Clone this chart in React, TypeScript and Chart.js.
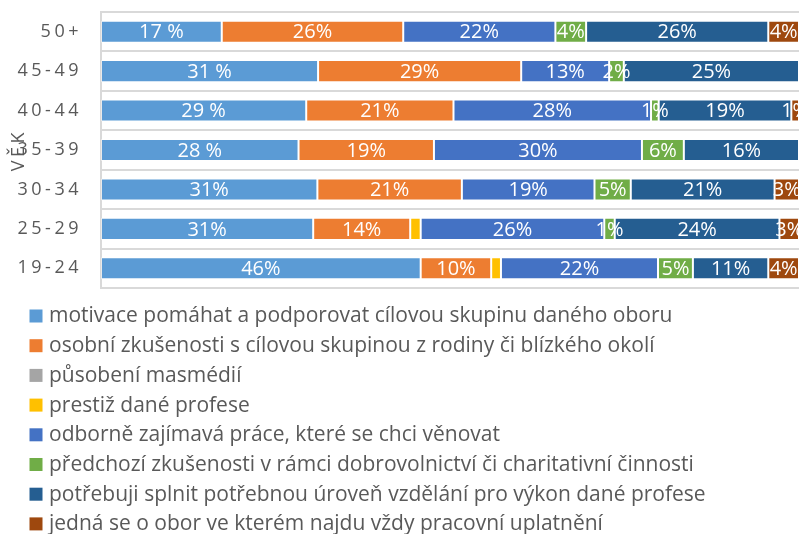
import React, { useEffect, useRef } from "react";
import { Chart, registerables } from "chart.js";

Chart.register(...registerables);

const categories = ["50+", "45-49", "40-44", "35-39", "30-34", "25-29", "19-24"];

const seriesNames = [
  "motivace pomáhat a podporovat cílovou skupinu daného oboru",
  "osobní zkušenosti s cílovou skupinou z rodiny či blízkého okolí",
  "působení masmédií",
  "prestiž dané profese",
  "odborně zajímavá práce, které se chci věnovat",
  "předchozí zkušenosti v rámci dobrovolnictví či charitativní činnosti",
  "potřebuji splnit potřebnou úroveň vzdělání pro výkon dané profese",
  "jedná se o obor ve kterém najdu vždy pracovní uplatnění",
];

const seriesColors = ["#5B9BD5", "#ED7D31", "#A5A5A5", "#FFC000", "#4472C4", "#70AD47", "#255E91", "#9E480E"];

const motivace = [17.3, 31.1, 29.4, 28.3, 31.0, 30.4, 45.8];
const osobni = [26.0, 29.1, 21.1, 19.4, 20.7, 13.9, 10.1];
const masmedia = [0, 0, 0, 0, 0, 0, 0];
const prestiz = [0, 0, 0, 0, 0, 1.5, 1.4];
const odborne = [21.8, 12.6, 28.3, 29.8, 19.0, 26.3, 22.5];
const predchozi = [4.4, 2.1, 1.1, 6.0, 5.2, 1.5, 5.0];
const potrebuji = [26.1, 25.1, 19.0, 16.5, 20.6, 23.6, 10.8];
const jedna = [4.4, 0, 1.1, 0, 3.5, 2.8, 4.4];

const motivaceLabels = ["17 %", "31 %", "29 %", "28 %", "31%", "31%", "46%"];
const osobniLabels = ["26%", "29%", "21%", "19%", "21%", "14%", "10%"];
const masmediaLabels = ["", "", "", "", "", "", ""];
const prestizLabels = ["", "", "", "", "", "", ""];
const odborneLabels = ["22%", "13%", "28%", "30%", "19%", "26%", "22%"];
const predchoziLabels = ["4%", "2%", "1%", "6%", "5%", "1%", "5%"];
const potrebujiLabels = ["26%", "25%", "19%", "16%", "21%", "24%", "11%"];
const jednaLabels = ["4%", "", "1%", "", "3%", "3%", "4%"];

const seriesValues = [motivace, osobni, masmedia, prestiz, odborne, predchozi, potrebuji, jedna];
const seriesLabels = [
  motivaceLabels, osobniLabels, masmediaLabels, prestizLabels,
  odborneLabels, predchoziLabels, potrebujiLabels, jednaLabels,
];

const axisTitle = "VĚK";

const FONT = "'Open Sans', sans-serif";
const TEXT_GRAY = "#595959";

const spacingPlugin = {
  id: "spacing",
  beforeDraw(chart: any) {
    (chart.ctx as any).letterSpacing = "3.5px";
  },
  beforeDatasetsDraw(chart: any) {
    (chart.ctx as any).letterSpacing = "0px";
  },
};

const labelPlugin = {
  id: "segLabels",
  afterDatasetsDraw(chart: any) {
    const ctx = chart.ctx;
    ctx.save();
    (ctx as any).letterSpacing = "0px";
    ctx.fillStyle = "#ffffff";
    ctx.font = `20px ${FONT}`;
    ctx.textAlign = "center";
    ctx.textBaseline = "middle";
    chart.data.datasets.forEach((ds: any, di: number) => {
      const meta = chart.getDatasetMeta(di);
      meta.data.forEach((el: any, i: number) => {
        const txt = ds.segLabels[i];
        if (!txt) return;
        const { x, base, y } = el.getProps(["x", "base", "y"], true);
        ctx.fillText(txt, (x + base) / 2, y + 1);
      });
    });
    ctx.restore();
  },
};

const legendPlugin = {
  id: "customLegend",
  afterDraw(chart: any) {
    const ctx = chart.ctx;
    ctx.save();
    (ctx as any).letterSpacing = "0px";
    ctx.font = `21px ${FONT}`;
    ctx.textAlign = "left";
    ctx.textBaseline = "middle";
    const top0 = 309.5;
    const pitch = 29.7;
    chart.data.datasets.forEach((ds: any, di: number) => {
      const top = top0 + di * pitch;
      ctx.fillStyle = ds.backgroundColor;
      ctx.fillRect(29.5, top, 13, 13);
      ctx.fillStyle = TEXT_GRAY;
      ctx.fillText(ds.label, 49, top + 7);
    });
    ctx.restore();
  },
};

export default function App() {
  const ref = useRef<HTMLCanvasElement | null>(null);

  useEffect(() => {
    if (!ref.current) return;
    const chart = new Chart(ref.current, {
      type: "bar",
      data: {
        labels: categories,
        datasets: seriesNames.map((name, k) => ({
          label: name,
          data: seriesValues[k],
          segLabels: seriesLabels[k],
          backgroundColor: seriesColors[k],
          borderColor: "rgba(255,255,255,0.45)",
          borderWidth: 1,
          borderSkipped: false,
          barPercentage: 0.56,
          categoryPercentage: 1,
        })) as any,
      },
      options: {
        indexAxis: "y",
        animation: false,
        responsive: false,
        layout: { padding: { top: 12, right: 2, bottom: 246, left: 0 } },
        plugins: {
          legend: { display: false },
          tooltip: { enabled: false },
        },
        scales: {
          x: {
            stacked: true,
            min: 0,
            max: 100,
            display: false,
          },
          y: {
            stacked: true,
            afterFit(scale: any) {
              scale.width = 101;
              scale.paddingTop = 0;
              scale.paddingBottom = 0;
            },
            grid: {
              color: "#d9d9d9",
              lineWidth: 2,
              drawTicks: false,
              offset: true,
            },
            border: { color: "#d9d9d9", width: 2 },
            ticks: {
              color: TEXT_GRAY,
              font: { family: FONT, size: 18 },
              padding: 19,
            },
            title: {
              display: true,
              text: axisTitle,
              color: TEXT_GRAY,
              font: { family: FONT, size: 18 },
              padding: { top: 8, bottom: 0 },
            },
          },
        },
      },
      plugins: [spacingPlugin, labelPlugin, legendPlugin],
    });
    return () => chart.destroy();
  }, []);

  return (
    <div style={{ position: "absolute", left: 0, top: 0, width: 801, height: 534 }}>
      <canvas ref={ref} width={801} height={534} />
    </div>
  );
}
